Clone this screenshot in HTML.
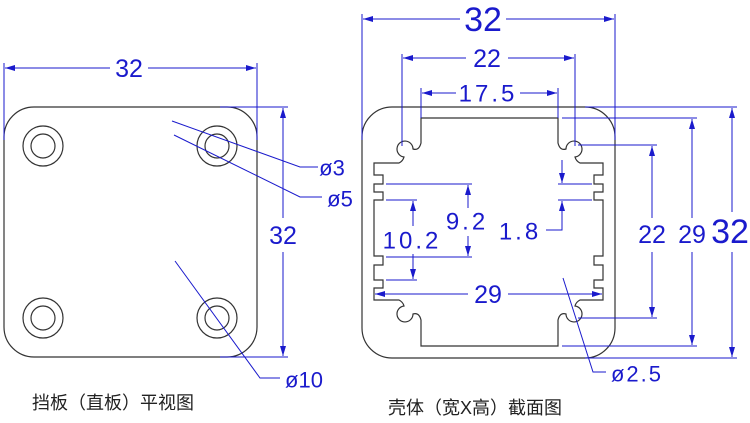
<!DOCTYPE html>
<html><head><meta charset="utf-8"><style>
html,body{margin:0;padding:0;background:#fff}
svg{display:block}
.d{stroke:#1a1acc;stroke-width:1;fill:none}
.t{fill:#1a1acc;font-family:"Liberation Sans",sans-serif;text-anchor:middle;dominant-baseline:central}
.k{stroke:#333;stroke-width:1.2;fill:none}
.c{font-family:"Liberation Sans","Noto Sans CJK SC",sans-serif;fill:#222;font-size:18px}
</style></head><body>
<svg width="750" height="423" viewBox="0 0 750 423" xmlns="http://www.w3.org/2000/svg">
<defs>
<marker id="a" viewBox="0 0 10 6" refX="10" refY="3" markerWidth="10" markerHeight="6" orient="auto-start-reverse" markerUnits="userSpaceOnUse"><path d="M0,0L10,3L0,6Z" fill="#1a1acc"/></marker>
</defs>
<!-- LEFT PLATE -->
<rect x="4" y="107" width="253" height="250" rx="30" class="k"/>
<g class="k">
<circle cx="43" cy="146" r="20"/><circle cx="43" cy="146" r="12"/>
<circle cx="217" cy="146" r="20"/><circle cx="217" cy="146" r="12"/>
<circle cx="43" cy="318" r="20"/><circle cx="43" cy="318" r="12"/>
<circle cx="217" cy="318" r="20"/><circle cx="217" cy="318" r="12"/>
</g>
<line class="d" x1="4" y1="63" x2="4" y2="140"/>
<line class="d" x1="257" y1="63" x2="257" y2="140"/>
<line class="d" x1="5" y1="68" x2="110" y2="68" marker-start="url(#a)"/>
<line class="d" x1="148" y1="68" x2="256" y2="68" marker-end="url(#a)"/>
<text class="t" x="129" y="69" font-size="25">32</text>
<line class="d" x1="220" y1="107" x2="288" y2="107"/>
<line class="d" x1="220" y1="357" x2="288" y2="357"/>
<line class="d" x1="283" y1="108" x2="283" y2="218" marker-start="url(#a)"/>
<line class="d" x1="283" y1="252" x2="283" y2="356" marker-end="url(#a)"/>
<text class="t" x="283" y="236" font-size="25">32</text>
<polyline class="d" points="172,121 300,167 318,167"/>
<polyline class="d" points="174,135 300,197 322,197"/>
<text class="t" x="332" y="168" font-size="22">ø3</text>
<text class="t" x="340" y="199" font-size="22">ø5</text>
<polyline class="d" points="175,261 260,378 280,378"/>
<text class="t" x="304" y="380" font-size="22">ø10</text>
<text class="c" x="32" y="409">挡板（直板）平视图</text>

<!-- RIGHT PROFILE -->
<rect x="362" y="107" width="253" height="251" rx="30" class="k"/>
<path class="k" d="M421,118 H558 V143 Q560,151 566,149 A8,8 0 1 1 575,157 Q576,161 580,163 H603 V175 H594 V184 H603 V192 H594 V200 H603 V256 H594 V265 H603 V280 H594 V288 H603 V300 H580 Q576,302 575,306 A8,8 0 1 1 566,314 Q560,312 558,320 V346 H421 V320 Q419,312 413,314 A8,8 0 1 1 404,306 Q403,302 399,300 H374 V288 H383 V280 H374 V265 H383 V256 H374 V200 H383 V192 H374 V184 H383 V175 H374 V163 H399 Q403,161 404,157 A8,8 0 1 1 413,149 Q419,151 421,143 Z"/>
<!-- top dims -->
<line class="d" x1="362" y1="14" x2="362" y2="140"/>
<line class="d" x1="615" y1="14" x2="615" y2="140"/>
<line class="d" x1="363" y1="19" x2="460" y2="19" marker-start="url(#a)"/>
<line class="d" x1="506" y1="19" x2="614" y2="19" marker-end="url(#a)"/>
<text class="t" x="483" y="20" font-size="34">32</text>
<line class="d" x1="402" y1="54" x2="402" y2="146"/>
<line class="d" x1="575" y1="54" x2="575" y2="146"/>
<line class="d" x1="403" y1="58" x2="466" y2="58" marker-start="url(#a)"/>
<line class="d" x1="508" y1="58" x2="574" y2="58" marker-end="url(#a)"/>
<text class="t" x="487" y="59" font-size="25">22</text>
<line class="d" x1="421" y1="88" x2="421" y2="118"/>
<line class="d" x1="558" y1="88" x2="558" y2="118"/>
<line class="d" x1="422" y1="93" x2="456" y2="93" marker-start="url(#a)"/>
<line class="d" x1="520" y1="93" x2="557" y2="93" marker-end="url(#a)"/>
<text class="t" x="488" y="94" font-size="24" letter-spacing="3">17.5</text>
<!-- right dims -->
<line class="d" x1="585" y1="107" x2="737" y2="107"/>
<line class="d" x1="585" y1="358" x2="737" y2="358"/>
<line class="d" x1="732" y1="108" x2="732" y2="212" marker-start="url(#a)"/>
<line class="d" x1="732" y1="252" x2="732" y2="357" marker-end="url(#a)"/>
<text class="t" x="730" y="232" font-size="34">32</text>
<line class="d" x1="562" y1="118" x2="697" y2="118"/>
<line class="d" x1="562" y1="346" x2="697" y2="346"/>
<line class="d" x1="692" y1="119" x2="692" y2="218" marker-start="url(#a)"/>
<line class="d" x1="692" y1="252" x2="692" y2="345" marker-end="url(#a)"/>
<text class="t" x="692" y="235" font-size="25">29</text>
<line class="d" x1="578" y1="145" x2="657" y2="145"/>
<line class="d" x1="578" y1="318" x2="657" y2="318"/>
<line class="d" x1="652" y1="146" x2="652" y2="218" marker-start="url(#a)"/>
<line class="d" x1="652" y1="252" x2="652" y2="317" marker-end="url(#a)"/>
<text class="t" x="652" y="235" font-size="25">22</text>
<!-- 1.8 -->
<line class="d" x1="558" y1="184" x2="592" y2="184"/>
<line class="d" x1="558" y1="200" x2="592" y2="200"/>
<line class="d" x1="562" y1="160" x2="562" y2="183" marker-end="url(#a)"/>
<polyline class="d" points="562,201 562,230 546,230" marker-start="url(#a)"/>
<text class="t" x="520" y="232" font-size="24" letter-spacing="3">1.8</text>
<!-- 9.2 -->
<line class="d" x1="386" y1="184" x2="472" y2="184"/>
<line class="d" x1="386" y1="257" x2="472" y2="257"/>
<line class="d" x1="468" y1="185" x2="468" y2="208" marker-start="url(#a)"/>
<line class="d" x1="468" y1="236" x2="468" y2="256" marker-end="url(#a)"/>
<text class="t" x="467" y="222" font-size="24" letter-spacing="3">9.2</text>
<!-- 10.2 -->
<line class="d" x1="386" y1="200" x2="417" y2="200"/>
<line class="d" x1="386" y1="280" x2="417" y2="280"/>
<line class="d" x1="413" y1="201" x2="413" y2="226" marker-start="url(#a)"/>
<line class="d" x1="413" y1="254" x2="413" y2="279" marker-end="url(#a)"/>
<text class="t" x="412" y="241" font-size="24" letter-spacing="3">10.2</text>
<!-- 29 horizontal -->
<line class="d" x1="375" y1="294" x2="468" y2="294" marker-start="url(#a)"/>
<line class="d" x1="508" y1="294" x2="602" y2="294" marker-end="url(#a)"/>
<text class="t" x="488" y="295" font-size="25">29</text>
<!-- ø2.5 -->
<polyline class="d" points="563,278 593,372 606,372"/>
<text class="t" x="637" y="374" font-size="22" letter-spacing="2">ø2.5</text>
<text class="c" x="388" y="414">壳体（宽X高）截面图</text>
</svg>
</body></html>
